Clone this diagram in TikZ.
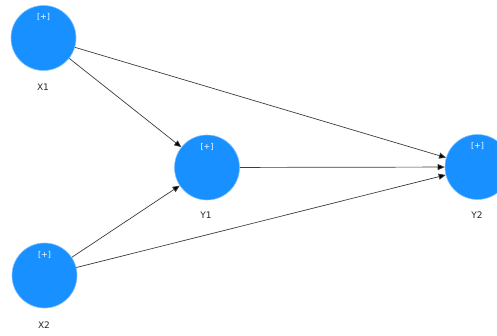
\documentclass[tikz,border=0pt]{standalone}
\usepackage{fontspec}
\setmainfont{DejaVu Sans}
\usetikzlibrary{arrows.meta}
\definecolor{nodeblue}{RGB}{24,144,255}
\definecolor{linegray}{RGB}{60,60,60}
\begin{document}
\begin{tikzpicture}[x=1pt,y=-1pt,
  latent/.style={circle,fill=nodeblue,draw=nodeblue!55,line width=0.6pt,minimum size=65pt,inner sep=0pt},
  plus/.style={text=white,font=\fontsize{8}{9}\selectfont},
  lbl/.style={text=black!85,font=\fontsize{9}{10}\selectfont},
  path/.style={draw=linegray,line width=0.7pt,-{Triangle[length=7pt,width=6pt,fill=black]}}]
\useasboundingbox (0,0) rectangle (497,336);
\node[latent] (X1) at (43.5,38) {};
\node[latent] (Y1) at (207,167.5) {};
\node[latent] (Y2) at (477.5,167) {};
\node[latent] (X2) at (44.5,275.5) {};
\node[plus] (pX1) at (43.5,17) {[+]};
\node[plus] (pY1) at (207,147) {[+]};
\node[plus] (pY2) at (477.5,146) {[+]};
\node[plus] (pX2) at (44.5,255) {[+]};
\node[lbl] (lX1) at (43,87) {X1};
\node[lbl] (lY1) at (206,215) {Y1};
\node[lbl] (lY2) at (477,215) {Y2};
\node[lbl] (lX2) at (44,325) {X2};
\draw[path] (X1) -- (Y1);
\draw[path] (X2) -- (Y1);
\draw[path] (X1) -- (Y2);
\draw[path] (Y1) -- (Y2);
\draw[path] (X2) -- (Y2);
\end{tikzpicture}
\end{document}
